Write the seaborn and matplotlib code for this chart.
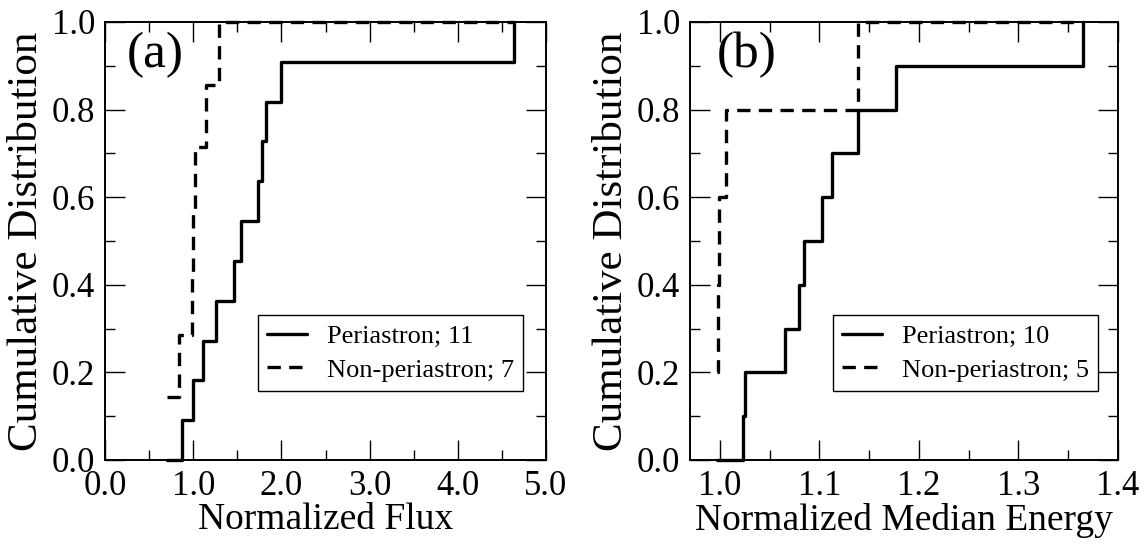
import numpy as np
import pandas as pd
import seaborn as sns
import matplotlib
matplotlib.use("Agg")
import matplotlib.pyplot as plt
from matplotlib.ticker import MultipleLocator, FormatStrFormatter

# ---- data (sample values) ----
flux_peri = [0.875, 0.995, 1.11, 1.255, 1.465, 1.545, 1.738, 1.776, 1.82, 2.00, 4.637]
flux_nonperi = [0.70, 0.84, 0.985, 1.0, 1.015, 1.145, 1.296]
energy_peri = [1.0235, 1.025, 1.0652, 1.0796, 1.0843, 1.103, 1.113, 1.1388, 1.1766, 1.3652]
energy_nonperi = [0.9973, 0.998, 0.9993, 1.006, 1.139]

series_labels_a = ["Periastron; 11", "Non-periastron; 7"]
series_labels_b = ["Periastron; 10", "Non-periastron; 5"]
panel_tags = ["(a)", "(b)"]
xlabels = ["Normalized Flux", "Normalized Median Energy"]
ylabel = "Cumulative Distribution"


def ecdf_curve(vals, lo, hi):
    v = np.sort(np.asarray(vals, dtype=float))
    n = len(v)
    f_lo = np.sum(v <= lo) / n
    x = np.r_[lo, v, hi]
    y = np.r_[f_lo, np.arange(1, n + 1) / n, 1.0]
    return pd.DataFrame({"x": x, "y": y})


sns.set_theme(style="ticks")
plt.rcParams["font.family"] = ["Liberation Serif", "DejaVu Serif"]
plt.rcParams["text.color"] = "black"
plt.rcParams["axes.labelcolor"] = "black"
plt.rcParams["xtick.color"] = "black"
plt.rcParams["ytick.color"] = "black"
plt.rcParams["axes.edgecolor"] = "black"

fig = plt.figure(figsize=(11.48, 5.47), dpi=100)
W, H = 1148, 547
axA = fig.add_axes([105 / W, 87 / H, 441 / W, 438 / H])
axB = fig.add_axes([690 / W, 87 / H, 428 / W, 438 / H])

panels = [
    (axA, flux_peri, flux_nonperi, series_labels_a, (0.0, 5.0), 1.0, 0.5, panel_tags[0], xlabels[0], 0.05, (0.948, 0.158)),
    (axB, energy_peri, energy_nonperi, series_labels_b, (0.97, 1.4), 0.1, 0.05, panel_tags[1], xlabels[1], 0.063, (0.953, 0.158)),
]

LW = 2.4
for ax, peri, nonperi, labs, xlim, maj, mnr, tag, xl, tagx, legpos in panels:
    lo = min(min(peri), min(nonperi))
    hi = max(max(peri), max(nonperi))
    d1 = ecdf_curve(peri, lo, hi)
    d2 = ecdf_curve(nonperi, lo, hi)
    sns.lineplot(data=d1, x="x", y="y", ax=ax, color="black", lw=LW,
                 estimator=None, sort=False, drawstyle="steps-post",
                 label=labs[0], clip_on=False, zorder=3)
    sns.lineplot(data=d2, x="x", y="y", ax=ax, color="black", lw=LW,
                 estimator=None, sort=False, drawstyle="steps-post",
                 label=labs[1], clip_on=False, zorder=3,
                 linestyle=(0, (4, 2.5)))
    ax.set_xlim(*xlim)
    ax.set_ylim(0, 1)
    ax.xaxis.set_major_locator(MultipleLocator(maj))
    ax.xaxis.set_minor_locator(MultipleLocator(mnr))
    ax.yaxis.set_major_locator(MultipleLocator(0.2))
    ax.yaxis.set_minor_locator(MultipleLocator(0.1))
    ax.xaxis.set_major_formatter(FormatStrFormatter("%.1f"))
    ax.yaxis.set_major_formatter(FormatStrFormatter("%.1f"))
    ax.tick_params(which="both", direction="in", top=True, right=True,
                   colors="black", width=1.0)
    ax.tick_params(which="major", length=14.4, labelsize=25, pad=7)
    ax.tick_params(which="minor", length=7.2)
    for s in ax.spines.values():
        s.set_linewidth(1.4)
        s.set_color("black")
    ax.set_xlabel(xl, fontsize=27, labelpad=0, color="black")
    ax.set_ylabel(ylabel, fontsize=31, labelpad=4, color="black")
    ax.text(tagx, 0.925, tag, transform=ax.transAxes, fontsize=37,
            ha="left", va="center", color="black")
    leg = ax.legend(loc="lower right", bbox_to_anchor=legpos, borderaxespad=0,
                    frameon=True, fancybox=False, edgecolor="black",
                    framealpha=1, fontsize=19, handlelength=1.5,
                    handletextpad=0.75, labelspacing=0.38, borderpad=0.35)
    leg.get_frame().set_linewidth(1.0)
    for t in leg.get_texts():
        t.set_color("black")
    for h in leg.get_lines():
        h.set_linewidth(LW)

fig.savefig("out.png", dpi=100)
